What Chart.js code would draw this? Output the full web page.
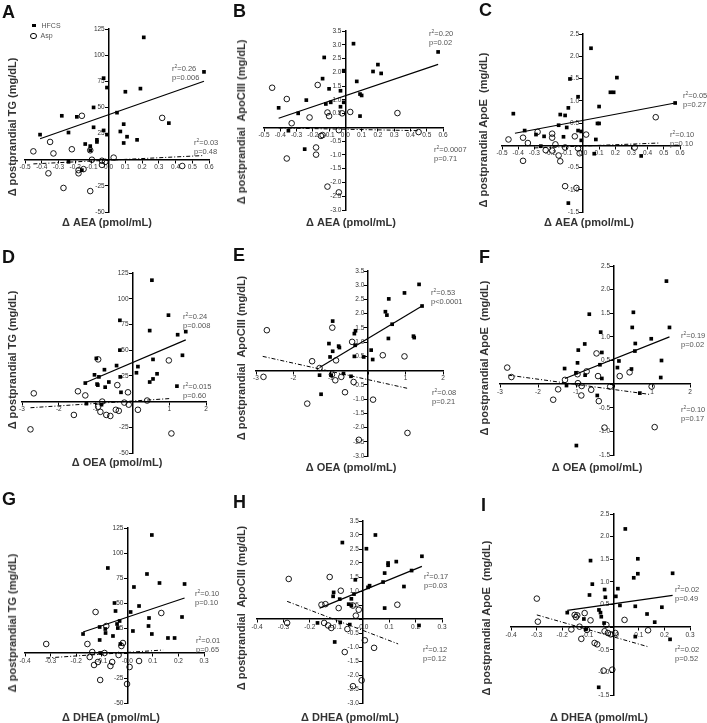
<!DOCTYPE html>
<html>
<head>
<meta charset="utf-8">
<script src="https://cdn.jsdelivr.net/npm/chart.js@4.4.0/dist/chart.umd.min.js"></script>
<style>
  body { margin: 0; background: #fff; }
  #fig { position: relative; width: 707px; height: 723px; overflow: hidden;
         font-family: "Liberation Sans", Arial, sans-serif; }
  #fig canvas { position: absolute; }
  .letter { position: absolute; font-size: 18px; font-weight: bold; line-height: 18px; color: #111; }
  .xt { position: absolute; font-size: 11px; font-weight: bold; color: #333; white-space: nowrap;
        transform: translate(-50%, -50%); }
  .yt { position: absolute; font-size: 11px; font-weight: bold; color: #333; white-space: pre;
        transform: translate(-50%, -50%) rotate(-90deg); }
  .st { position: absolute; font-size: 7.5px; line-height: 8.5px; color: #555; white-space: nowrap; }
  .st sup { font-size: 5px; vertical-align: 3px; line-height: 0; }
  .leg { position: absolute; font-size: 7px; color: #555; line-height: 8px; }
</style>
</head>
<body>
<div id="fig"></div>
<script>
// -- data: [x, y] pairs --
const tgAeaHfcs = [[0.21,117],[0.57,84],[-0.03,78],[-0.01,69],[0.10,65],[0.19,68],[-0.09,50],[-0.28,42],
  [-0.19,41],[0.05,45],[0.09,34],[0.36,35],[-0.41,24],[-0.24,26],[-0.09,31],[-0.03,28],[-0.01,24],[0.07,27],
  [0.11,22],[0.17,19],[-0.07,19],[-0.07,17],[-0.14,15],[-0.11,13],[-0.11,9],[0.09,16],[-0.24,-2],[-0.16,-10]];
const tgAeaAsp = [[-0.45,8],[-0.35,17],[-0.33,6],[-0.22,10],[-0.16,42],[-0.11,9],[-0.10,0],[-0.04,-1],
  [-0.02,-2],[-0.04,-5],[0.03,2],[0.32,40],[0.44,-6],[-0.36,-13],[-0.18,-13],[-0.18,-10],[-0.15,-9],
  [-0.27,-27],[-0.11,-30]];
const tgAeaHfcsFit = [[-0.41,20],[0.57,75]];
const tgAeaAspFit = [[-0.45,-4],[0.57,4]];

const apocAeaHfcs = [[0.05,3.04],[0.57,2.74],[-0.13,2.54],[0.20,2.28],[-0.01,2.06],[0.17,2.03],[0.22,1.96],
  [-0.14,1.77],[0.07,1.67],[-0.10,1.40],[-0.03,1.33],[0.09,1.21],[0.10,1.16],[-0.24,0.99],[-0.41,0.71],
  [-0.12,0.85],[-0.09,0.91],[-0.01,0.91],[-0.29,0.51],[-0.03,0.75],[0.09,0.41],[-0.35,-0.12],[-0.25,-0.79]];
const apocAeaAsp = [[-0.45,1.44],[-0.36,1.03],[-0.17,1.54],[-0.22,0.36],[-0.11,0.54],[-0.10,0.41],
  [-0.02,0.51],[0.03,0.56],[0.32,0.52],[-0.33,0.15],[-0.18,-0.73],[-0.18,-0.99],[-0.36,-1.13],[-0.11,-2.15],
  [-0.04,-2.36],[-0.15,-0.31],[-0.14,-0.28],[0.45,-0.17],[-0.04,-0.10]];
const apocAeaHfcsFit = [[-0.41,0.33],[0.57,2.29]];
const apocAeaAspFit = [[-0.41,-0.02],[0.45,-0.12]];

const apoeAeaHfcs = [[0.05,2.18],[0.21,1.52],[0.17,1.19],[0.19,1.19],[-0.08,1.49],[-0.03,1.09],[0.10,0.87],
  [0.57,0.95],[-0.43,0.71],[-0.09,0.84],[-0.14,0.69],[-0.11,0.67],[-0.15,0.45],[-0.10,0.40],[0.09,0.49],
  [0.10,0.49],[-0.36,0.33],[-0.29,0.24],[-0.24,0.20],[-0.12,0.19],[-0.03,0.33],[-0.01,0.31],[0.08,0.13],
  [-0.01,0.11],[-0.26,-0.02],[0.36,-0.24],[0.07,-0.19],[-0.09,-1.30]];
const apoeAeaAsp = [[-0.46,0.13],[-0.37,0.17],[-0.28,0.30],[-0.34,0.05],[-0.19,0.26],[-0.19,0.17],
  [-0.17,0.02],[-0.23,-0.11],[-0.19,-0.12],[-0.15,-0.23],[-0.14,-0.36],[-0.37,-0.35],[-0.11,-0.05],
  [-0.05,0.20],[-0.03,-0.07],[0.02,0.24],[0.45,0.63],[0.32,-0.05],[-0.11,-0.92],[-0.04,-0.96],[-0.02,-0.18]];
const apoeAeaHfcsFit = [[-0.42,0.27],[0.57,0.95]];
const apoeAeaAspFit = [[-0.30,-0.06],[0.47,0.05]];

const tgOeaHfcs = [[0.53,118],[0.98,84],[-0.34,79],[0.47,69],[1.45,68],[1.23,65],[-0.34,50],[1.36,45],
  [0.56,41],[-0.98,42],[-0.43,35],[0.15,34],[-0.76,31],[-1.03,26],[-0.91,24],[-0.96,17],[-0.94,16],
  [-0.64,19],[-0.74,14],[-1.28,18],[-0.33,24],[-0.31,9],[0.11,28],[0.67,27],[0.56,22],[0.47,19],
  [1.21,15],[-1.25,-2],[-0.84,-3]];
const tgOeaAsp = [[-2.68,8],[-1.48,10],[-1.28,6],[-0.93,41],[-0.41,16],[-0.12,9],[-0.82,0],[-0.93,-5],
  [-0.87,-10],[-0.71,-13],[-0.60,-14],[-0.45,-8],[-0.37,-9],[-0.22,-1],[-0.10,-3],[0.15,-8],[0.40,1],
  [0.99,40],[-1.59,-13],[-2.77,-27],[1.06,-31]];
const tgOeaHfcsFit = [[-1.30,18],[1.45,60]];
const tgOeaAspFit = [[-2.77,-6],[1.05,3]];

const apocOeaHfcs = [[1.36,3.03],[0.97,2.73],[0.55,2.52],[1.44,2.27],[0.46,2.07],[0.50,1.95],[0.64,1.63],
  [-0.95,1.74],[-0.34,1.40],[-0.37,1.30],[0.54,1.13],[1.21,1.21],[1.23,1.16],[-1.05,0.95],[-0.79,0.86],
  [-0.77,0.81],[-0.95,0.68],[-0.35,0.89],[0.08,0.72],[-1.02,0.48],[-0.37,0.50],[-0.12,0.48],[0.12,0.39],
  [-1.30,-0.16],[-0.99,-0.16],[-0.46,-0.20],[-0.66,-0.10],[-1.26,-0.83]];
const apocOeaAsp = [[-2.71,1.42],[-2.80,-0.22],[-0.96,1.51],[-1.50,0.33],[-1.30,0.09],[-0.86,0.36],
  [-0.43,1.01],[0.39,0.54],[0.97,0.50],[-0.97,-0.14],[-0.88,-0.34],[-0.72,-0.22],[-0.39,-0.40],
  [-0.62,-0.76],[-1.63,-1.16],[0.13,-1.02],[1.05,-2.19],[-0.25,-2.43]];
const apocOeaHfcsFit = [[-1.30,0.11],[1.44,2.27]];
const apocOeaAspFit = [[-2.82,0.50],[1.04,-0.62]];

const apoeOeaHfcs = [[1.38,2.18],[1.46,1.20],[0.51,1.52],[0.48,1.20],[-0.65,1.48],[-0.35,1.10],[0.98,0.96],
  [-0.32,0.67],[-0.77,0.85],[-0.94,0.72],[0.56,0.86],[0.55,0.70],[0.13,0.49],[1.25,0.50],[-0.37,0.41],
  [-0.96,0.45],[-1.30,0.33],[0.09,0.35],[0.46,0.32],[-1.00,0.24],[-0.76,0.19],[-0.32,0.12],[1.23,0.14],
  [-1.25,-0.03],[-0.44,-0.24],[0.68,-0.19],[-0.99,-1.30]];
const apoeOeaAsp = [[-2.81,0.35],[-2.70,0.15],[-1.47,-0.11],[-1.60,-0.33],[-1.29,0.09],[-0.96,0.21],
  [-0.95,0.02],[-0.85,-0.04],[-0.86,-0.24],[-0.72,0.27],[-0.60,-0.12],[-0.46,0.65],[-0.42,0.17],
  [-0.40,-0.36],[-0.25,-0.92],[0.15,0.17],[-0.10,-0.05],[0.41,0.25],[0.99,-0.05],[1.07,-0.91]];
const apoeOeaHfcsFit = [[-1.29,0.12],[1.46,1.00]];
const apoeOeaAspFit = [[-2.78,0.19],[0.96,-0.22]];

const tgDheaHfcs = [[0.096,118],[-0.076,85],[0.077,79],[0.126,70],[0.224,69],[0.026,66],[-0.050,50],
  [0.046,47],[0.013,41],[-0.046,42],[0.085,35],[0.214,36],[-0.030,32],[-0.040,29],[-0.037,25],[0.083,27],
  [0.022,22],[0.096,19],[0.159,15],[0.185,15],[-0.108,26],[-0.086,24],[-0.173,19],[-0.108,13],
  [-0.085,20],[-0.056,17],[-0.027,9],[-0.106,0]];
const tgDheaAsp = [[-0.317,9],[-0.124,41],[-0.156,9],[-0.082,27],[-0.017,10],[-0.023,7],[-0.137,1],
  [-0.147,-4],[-0.115,-9],[-0.130,-12],[-0.089,0],[-0.059,-9],[-0.066,-13],[-0.034,-2],[0.009,-14],
  [0.046,-8],[-0.106,-27],[-0.001,-31],[0.133,40]];
const tgDheaHfcsFit = [[-0.173,21],[0.224,55]];
const tgDheaAspFit = [[-0.317,-5],[0.140,3]];

const apocDheaHfcs = [[0.048,3.00],[-0.077,2.73],[0.014,2.51],[0.224,2.24],[0.127,2.05],[0.096,2.00],
  [0.096,1.92],[0.185,1.73],[0.083,1.64],[-0.028,1.40],[0.026,1.19],[0.020,1.13],[0.156,1.16],
  [-0.110,0.95],[-0.112,0.81],[-0.033,0.89],[-0.087,0.71],[-0.043,0.72],[-0.053,0.53],[-0.043,0.48],
  [0.083,0.39],[0.077,1.32],[-0.171,-0.14],[-0.085,-0.12],[-0.106,-0.82],[-0.049,-0.20],[0.213,-0.23]];
const apocDheaAsp = [[-0.280,1.43],[-0.125,1.50],[-0.083,1.01],[-0.156,0.51],[-0.141,0.53],[-0.091,0.39],
  [-0.037,0.48],[-0.015,0.33],[-0.026,0.12],[-0.146,-0.14],[-0.131,-0.23],[-0.119,-0.32],[-0.058,-0.36],
  [-0.286,-0.14],[0.008,-0.76],[0.043,-1.03],[-0.068,-1.18],[-0.004,-2.19],[-0.037,-2.40],[0.131,0.51]];
const apocDheaHfcsFit = [[-0.163,0.39],[0.224,1.88]];
const apocDheaAspFit = [[-0.286,0.63],[0.134,-0.89]];

const apoeDheaHfcs = [[0.047,2.17],[-0.089,1.47],[0.096,1.51],[0.096,1.18],[0.232,1.19],[0.080,1.09],
  [-0.082,0.95],[-0.034,0.83],[0.018,0.85],[-0.093,0.71],[0.010,0.68],[-0.031,0.66],[0.026,0.48],
  [0.086,0.46],[0.190,0.44],[-0.056,0.38],[-0.050,0.32],[-0.047,0.23],[-0.180,0.32],[0.132,0.29],
  [-0.115,0.18],[0.162,0.11],[-0.036,0.09],[-0.108,-0.05],[0.222,-0.27],[0.086,-0.21],[-0.057,-1.33]];
const apoeDheaAsp = [[-0.299,0.63],[-0.295,0.12],[-0.151,0.27],[-0.141,0.26],[-0.146,0.22],[-0.089,0.15],
  [-0.112,0.31],[-0.132,0.01],[-0.164,-0.05],[-0.103,-0.06],[-0.125,-0.26],[-0.073,-0.35],[-0.063,-0.38],
  [-0.034,-0.09],[-0.027,0.05],[-0.021,-0.13],[-0.010,-0.16],[0.008,-0.13],[0.044,0.16],[0.136,-0.07],
  [-0.038,-0.96],[-0.004,-0.94]];
const apoeDheaHfcsFit = [[-0.180,0.37],[0.232,0.70]];
const apoeDheaAspFit = [[-0.299,0.27],[0.140,-0.44]];

const yTitles = {
  tg: 'Δ postprandial TG (mg/dL)',
  apoc: 'Δ postprandial  ApoCIII (mg/dL)',
  apoe: 'Δ postprandial ApoE  (mg/dL)'
};
const xTitles = { aea: 'Δ AEA (pmol/mL)', oea: 'Δ OEA (pmol/mL)', dhea: 'Δ DHEA (pmol/mL)' };

// -- panel layout: plot area [left, top, right, bottom] in page px --
const panels = [
  { letter: 'A', lp: [2, 3], hfcs: tgAeaHfcs, asp: tgAeaAsp, hf: tgAeaHfcsFit, af: tgAeaAspFit,
    x: [-0.5, 0.6, 0.1], y: [-50, 125, 25], area: [25, 29, 209, 212], xk: 'aea', yk: 'tg',
    xt: [107, 222], yt: [12, 127], s1: [172, 65, '0.26', 'p=0.006'], s2: [194, 139, '0.03', 'p=0.48'], legend: true },
  { letter: 'B', lp: [233, 2], hfcs: apocAeaHfcs, asp: apocAeaAsp, hf: apocAeaHfcsFit, af: apocAeaAspFit,
    x: [-0.5, 0.6, 0.1], y: [-3, 3.5, 0.5], area: [264, 31, 443, 210], xk: 'aea', yk: 'apoc',
    xt: [351, 222], yt: [241, 122], s1: [429, 30, '0.20', 'p=0.02'], s2: [434, 146, '0.0007', 'p=0.71'] },
  { letter: 'C', lp: [479, 1], hfcs: apoeAeaHfcs, asp: apoeAeaAsp, hf: apoeAeaHfcsFit, af: apoeAeaAspFit,
    x: [-0.5, 0.6, 0.1], y: [-1.5, 2.5, 0.5], area: [501.5, 34.3, 679.3, 212.3], xk: 'aea', yk: 'apoe',
    xt: [589, 222], yt: [483, 130], s1: [683, 92, '0.05', 'p=0.27'], s2: [670, 131, '0.10', 'p=0.10'] },
  { letter: 'D', lp: [2, 248], hfcs: tgOeaHfcs, asp: tgOeaAsp, hf: tgOeaHfcsFit, af: tgOeaAspFit,
    x: [-3, 2, 1], y: [-50, 125, 25], area: [21.6, 273.3, 205.6, 453.3], xk: 'oea', yk: 'tg',
    xt: [117, 462], yt: [12, 360], s1: [183, 313, '0.24', 'p=0.008'], s2: [183, 383, '0.015', 'p=0.60'] },
  { letter: 'E', lp: [233, 246], hfcs: apocOeaHfcs, asp: apocOeaAsp, hf: apocOeaHfcsFit, af: apocOeaAspFit,
    x: [-3, 2, 1], y: [-3, 3.5, 0.5], area: [256, 270.9, 442.7, 455.5], xk: 'oea', yk: 'apoc',
    xt: [351, 467], yt: [241, 358], s1: [431, 289, '0.53', 'p<0.0001'], s2: [432, 389, '0.08', 'p=0.21'] },
  { letter: 'F', lp: [479, 248], hfcs: apoeOeaHfcs, asp: apoeOeaAsp, hf: apoeOeaHfcsFit, af: apoeOeaAspFit,
    x: [-3, 2, 1], y: [-1.5, 2.5, 0.5], area: [500.3, 266, 690.3, 455], xk: 'oea', yk: 'apoe',
    xt: [597, 467], yt: [484, 358], s1: [681, 332, '0.19', 'p=0.02'], s2: [681, 406, '0.10', 'p=0.17'] },
  { letter: 'G', lp: [2, 490], hfcs: tgDheaHfcs, asp: tgDheaAsp, hf: tgDheaHfcsFit, af: tgDheaAspFit,
    x: [-0.4, 0.3, 0.1], y: [-50, 125, 25], area: [25.4, 528, 204.4, 703], xk: 'dhea', yk: 'tg',
    xt: [111, 717], yt: [12, 623], s1: [195, 590, '0.10', 'p=0.10'], s2: [196, 637, '0.01', 'p=0.65'] },
  { letter: 'H', lp: [233, 493], hfcs: apocDheaHfcs, asp: apocDheaAsp, hf: apocDheaHfcsFit, af: apocDheaAspFit,
    x: [-0.4, 0.3, 0.1], y: [-3, 3.5, 0.5], area: [256.6, 521.1, 441.6, 703.5], xk: 'dhea', yk: 'apoc',
    xt: [350, 717], yt: [241, 608], s1: [424, 573, '0.17', 'p=0.03'], s2: [423, 646, '0.12', 'p=0.12'] },
  { letter: 'I', lp: [481, 496], hfcs: apoeDheaHfcs, asp: apoeDheaAsp, hf: apoeDheaHfcsFit, af: apoeDheaAspFit,
    x: [-0.4, 0.3, 0.1], y: [-1.5, 2.5, 0.5], area: [510.7, 513.5, 689.7, 694.5], xk: 'dhea', yk: 'apoe',
    xt: [599, 717], yt: [486, 618], s1: [675, 586, '0.02', 'p=0.49'], s2: [675, 646, '0.02', 'p=0.52'] }
];

Chart.defaults.font.family = "'Liberation Sans', Arial, sans-serif";
Chart.defaults.font.size = 6.5;
Chart.defaults.color = '#333';

const fig = document.getElementById('fig');
const pts = arr => arr.map(([x, y]) => ({ x, y }));

function addText(cls, left, top, html) {
    const d = document.createElement('div');
    d.className = cls;
    d.style.left = left + 'px';
    d.style.top = top + 'px';
    d.innerHTML = html;
    fig.appendChild(d);
    return d;
}

// y labels sit flush on a crossing axis, so pad them with trailing spaces
const GAP = '\u2009\u2009\u2009';
function fmtX(step) {
    if (step >= 1) return v => (v === 0 ? '' : String(v));
    return v => v.toFixed(1);
}
function fmtY(step) {
    if (step >= 1) return v => (v === 0 ? '' : String(v) + GAP);
    return v => (Math.abs(v) < 1e-9 ? '' : v.toFixed(1) + GAP);
}

function axis(min, max, step, pos, fmt) {
    return {
        type: 'linear', min, max, position: pos,
        grid: { drawOnChartArea: false, drawTicks: true, tickLength: 3, color: '#000', lineWidth: 1 },
        border: { color: '#000', width: 1.5 },
        ticks: { stepSize: step, autoSkip: false, maxRotation: 0, padding: 1, color: '#333', callback: fmt }
    };
}

function renderPanel(p) {
    const pad = 18;
    const [l, t, r, b] = p.area;
    const cv = document.createElement('canvas');
    cv.width = Math.round(r - l + 2 * pad);
    cv.height = Math.round(b - t + 2 * pad);
    cv.style.left = (l - pad) + 'px';
    cv.style.top = (t - pad) + 'px';
    fig.appendChild(cv);

    new Chart(cv, {
        type: 'scatter',
        data: {
            datasets: [
                { label: 'HFCS', data: pts(p.hfcs), pointStyle: 'rect', pointRadius: 2.6,
                  backgroundColor: '#000', borderWidth: 0 },
                { label: 'Asp', data: pts(p.asp), pointStyle: 'circle', pointRadius: 2.8,
                  backgroundColor: 'rgba(255,255,255,0)', borderColor: '#000', borderWidth: 0.9 },
                { data: pts(p.hf), showLine: true, pointRadius: 0, borderColor: '#000', borderWidth: 1.2 },
                { data: pts(p.af), showLine: true, pointRadius: 0, borderColor: '#000', borderWidth: 1,
                  borderDash: [4, 2, 1, 2] }
            ]
        },
        options: {
            responsive: false,
            animation: false,
            layout: { padding: { left: pad, right: pad, top: pad, bottom: pad } },
            plugins: { legend: { display: false }, tooltip: { enabled: false } },
            scales: {
                x: axis(p.x[0], p.x[1], p.x[2], { y: 0 }, fmtX(p.x[2])),
                y: axis(p.y[0], p.y[1], p.y[2], { x: 0 }, fmtY(p.y[2]))
            }
        }
    });

    addText('letter', p.lp[0], p.lp[1], p.letter);
    addText('xt', p.xt[0], p.xt[1], xTitles[p.xk]);
    addText('yt', p.yt[0], p.yt[1], yTitles[p.yk]);
    addText('st', p.s1[0], p.s1[1], 'r<sup>2</sup>=' + p.s1[2] + '<br>' + p.s1[3]);
    addText('st', p.s2[0], p.s2[1], 'r<sup>2</sup>=' + p.s2[2] + '<br>' + p.s2[3]);

    if (p.legend) {
        addText('leg', 31, 22, '<span style="display:inline-block;width:3.5px;height:3.5px;background:#000;margin:0 6px 1px 1px"></span>HFCS');
        addText('leg', 30, 32, '<span style="display:inline-block;width:4.5px;height:4.5px;border:1px solid #000;border-radius:50%;margin:0 4px 0 0;vertical-align:-1px"></span>Asp');
    }
}

panels.forEach(renderPanel);
</script>
</body>
</html>
